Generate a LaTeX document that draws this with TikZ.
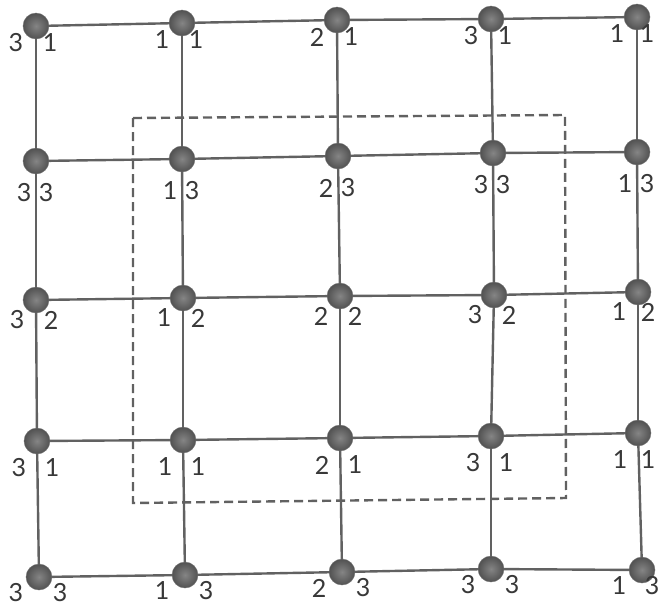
\documentclass[tikz,border=0pt]{standalone}
\usepackage{fontspec}
\setmainfont{Lato}
\begin{document}
\begin{tikzpicture}[x=1pt,y=-1pt,
  dot/.style={circle,minimum size=26pt,inner sep=0pt,draw=black!55,line width=0.4pt,
    inner color=black!48,outer color=black!68},
  gridline/.style={draw=black!62,line width=2.4pt},
  boxline/.style={draw=black!62,line width=2.4pt,dash pattern=on 9pt off 5pt},
  lab/.style={text=black!78,font=\fontsize{25}{25}\selectfont,inner sep=0pt}]
\fill[white] (0,0) rectangle (658,606);
\useasboundingbox (0,0) rectangle (658,606);
% coordinates of dots
\foreach \c/\px/\py in {1/36/26,2/182/23,3/337/20,4/491/19,5/637/17}{\coordinate (p1\c) at (\px,\py);}
\foreach \c/\px/\py in {1/36/161,2/182/159,3/338/156,4/493/153,5/637/152}{\coordinate (p2\c) at (\px,\py);}
\foreach \c/\px/\py in {1/36/300,2/183/298,3/340/296,4/494/295,5/638/292}{\coordinate (p3\c) at (\px,\py);}
\foreach \c/\px/\py in {1/37/441,2/183/440,3/340/438,4/491/436,5/638/433}{\coordinate (p4\c) at (\px,\py);}
\foreach \c/\px/\py in {1/39/577,2/185/575,3/342/572,4/491/569,5/642/570}{\coordinate (p5\c) at (\px,\py);}
% grid lines
\foreach \r in {1,...,5}{
  \foreach \c/\d in {1/2,2/3,3/4,4/5}{
    \draw[gridline] (p\r\c) -- (p\r\d);
    \draw[gridline] (p\c\r) -- (p\d\r);
  }
}
% dashed box
\coordinate (b1) at (133,118);
\coordinate (b2) at (565,115);
\coordinate (b3) at (566,498);
\coordinate (b4) at (133,503);
\draw[boxline] (b1) -- (b2) -- (b3) -- (b4) -- cycle;
% dots
\foreach \r in {1,...,5}{
  \foreach \c in {1,...,5}{
    \node[dot] (n\r\c) at (p\r\c) {};
  }
}
% labels: left number by column, right number by row
\foreach \r/\rv/\lx/\rx/\dy in {1/1/-20/14/17, 2/3/-12/10/32, 3/2/-19/15/20, 4/1/-18/15/27, 5/3/-23/21/16}{
  \foreach \c/\cv/\rmax in {1/3/99,2/1/99,3/2/99,4/3/99,5/1/10}{
    \pgfmathsetmacro{\rxx}{min(\rx,\rmax)}
    \node[lab] (l\r\c) at ([shift={(\lx,\dy)}]p\r\c) {\cv};
    \node[lab] (r\r\c) at ([shift={(\rxx,\dy)}]p\r\c) {\rv};
  }
}
\end{tikzpicture}
\end{document}
